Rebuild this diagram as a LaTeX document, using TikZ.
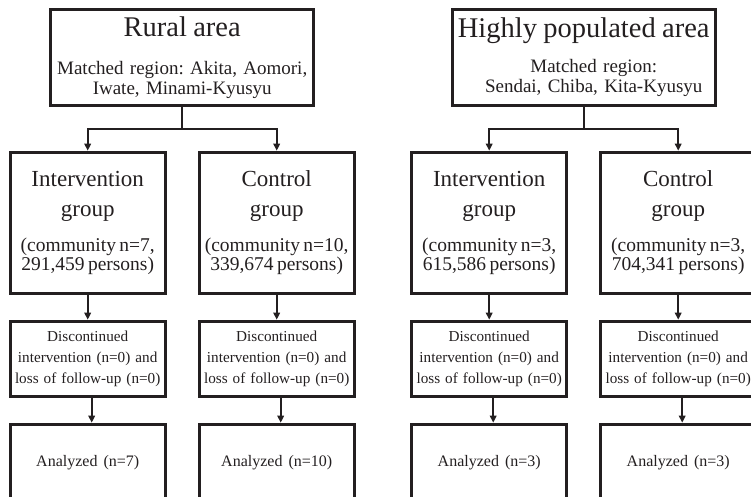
\documentclass[tikz,border=0pt]{standalone}
\usepackage{fontspec}
\setmainfont{Liberation Serif}
\usepackage{tikz}
\usetikzlibrary{positioning,calc,arrows.meta}
\definecolor{ink}{HTML}{231F20}
\newcommand{\areatitle}{\fontsize{28.5}{20}\selectfont}
\newcommand{\grouptitle}{\fontsize{23}{23}\selectfont}
\newcommand{\groupdetail}{\fontsize{19.5}{23}\selectfont}
\frenchspacing

\begin{document}
\begin{tikzpicture}[x=1pt,y=1pt,
  every matrix/.style={ampersand replacement=\&,column sep=31pt,row sep=25pt,inner sep=0pt},
  box/.style={draw=ink,line width=3pt,text=ink,inner sep=1pt,text width=153pt,minimum width=155pt},
  areabox/.style={box,text width=257pt,minimum width=263pt,minimum height=96pt,font=\fontsize{19}{20}\selectfont},
  groupbox/.style={box,minimum height=141pt},
  lossbox/.style={box,minimum height=75pt,font=\fontsize{15.2}{20.7}\selectfont},
  resultbox/.style={box,minimum height=76pt,font=\fontsize{16}{20}\selectfont},
  flow/.style={-{Triangle[length=7pt,width=6.5pt]},draw=ink,line width=2pt},
  link/.style={draw=ink,line width=2pt},
  every node/.style={align=center}]

\useasboundingbox (0,0) rectangle (751,-497);

% Rural area: the three stages of both groups
\matrix (ruralGrid) [anchor=north west] at (8.5,-150.5) {
  \node[groupbox] (ruralInt) {\grouptitle Intervention\\[7pt] group\\[12pt]\groupdetail (community n=7,\\291,459 persons)};
  \& \node[groupbox] (ruralCtl) {\grouptitle Control\\[7pt] group\\[12pt]\groupdetail (community n=10,\\339,674 persons)};
  \\
  \node[lossbox] (ruralIntLoss) {Discontinued\\intervention (n=0) and\\loss of follow-up (n=0)};
  \& \node[lossbox] (ruralCtlLoss) {Discontinued\\intervention (n=0) and\\loss of follow-up (n=0)};
  \\
  \node[resultbox] (ruralIntRes) {Analyzed\hspace{6pt}(n=7)};
  \& \node[resultbox] (ruralCtlRes) {Analyzed\hspace{6pt}(n=10)};
  \\
};

% Highly populated area
\matrix (cityGrid) [anchor=north west,column sep=30pt,row sep=26.5pt] at (410,-150.5) {
  \node[groupbox] (cityInt) {\grouptitle Intervention\\[7pt] group\\[12pt]\groupdetail (community n=3,\\615,586 persons)};
  \& \node[groupbox] (cityCtl) {\grouptitle Control\\[7pt] group\\[12pt]\groupdetail (community n=3,\\704,341 persons)};
  \\
  \node[lossbox] (cityIntLoss) {Discontinued\\intervention (n=0) and\\loss of follow-up (n=0)};
  \& \node[lossbox] (cityCtlLoss) {Discontinued\\intervention (n=0) and\\loss of follow-up (n=0)};
  \\
  \node[resultbox] (cityIntRes) {Analyzed\hspace{6pt}(n=3)};
  \& \node[resultbox] (cityCtlRes) {Analyzed\hspace{6pt}(n=3)};
  \\
};

% Area boxes sit over the fork of their two groups
\coordinate (ruralFork) at ($(ruralInt.north)!0.5!(ruralCtl.north)+(0,22)$);
\coordinate (cityFork) at ($(cityInt.north)!0.5!(cityCtl.north)+(0,22)$);
\node[areabox, above=22pt of ruralFork] (ruralArea) {{\areatitle Rural area\hspace*{28pt}}\\[18pt]Matched region: Akita, Aomori,\\Iwate, Minami-Kyusyu};
\node[areabox, above=22pt of cityFork] (cityArea) {{\areatitle Highly populated area}\\[15pt]\hspace*{20pt}Matched region:\\\hspace*{20pt}Sendai, Chiba, Kita-Kyusyu};

% Connectors
\draw [link] (ruralArea) -- (ruralFork);
\draw [flow] (ruralFork) -| (ruralInt);
\draw [flow] (ruralFork) -| (ruralCtl);
\draw [link] (cityArea) -- (cityFork);
\draw [flow] (cityFork) -| (cityInt);
\draw [flow] (cityFork) -| (cityCtl);

\foreach \col in {ruralInt,ruralCtl,cityInt,cityCtl}{
  \draw [flow] (\col) -- (\col Loss);
  \draw [flow] ([xshift=4pt]\col Loss.south) -- ([xshift=4pt]\col Res.north);
}

\end{tikzpicture}
\end{document}
